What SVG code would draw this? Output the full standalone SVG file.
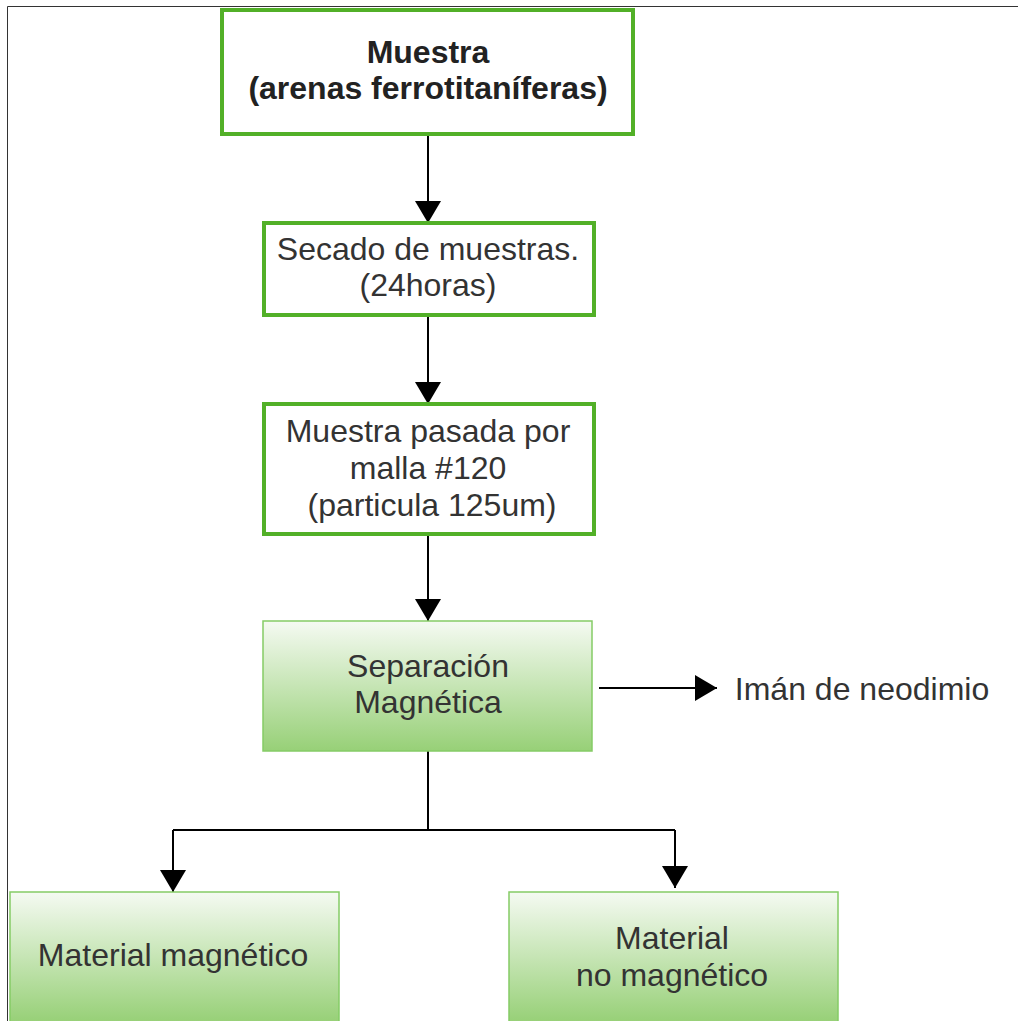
<svg xmlns="http://www.w3.org/2000/svg" width="1018" height="1021" viewBox="0 0 1018 1021">
<style>
text{font-family:"Liberation Sans",Arial,sans-serif;font-size:32px;fill:#333;text-anchor:middle}
.b{font-weight:bold;fill:#222}
.thick{fill:#fff;stroke:#52b028;stroke-width:4}
.grad{fill:url(#g);stroke:#85cc66;stroke-width:1.5}
.c{fill:none;stroke:#000;stroke-width:2}
</style>
<defs>
<linearGradient id="g" x1="0" y1="0" x2="0" y2="1">
<stop offset="0" stop-color="#f5faf2"/>
<stop offset="1" stop-color="#97d077"/>
</linearGradient>
<linearGradient id="g2" x1="0" x2="0" gradientUnits="userSpaceOnUse" y1="892" y2="1022">
<stop offset="0" stop-color="#f5faf2"/>
<stop offset="1" stop-color="#97d077"/>
</linearGradient>
<marker id="ah" viewBox="0 0 22 26" refX="22" refY="13" markerWidth="22" markerHeight="26" markerUnits="userSpaceOnUse" orient="auto">
<path d="M0,0L22,13L0,26z" fill="#000"/>
</marker>
</defs>
<rect width="1018" height="1021" fill="#fff"/>
<path d="M7.5,1021V6.5H1018" fill="none" stroke="#333" stroke-width="1"/>
<g id="connectors">
<path class="c" d="M428,134V223" marker-end="url(#ah)"/>
<path class="c" d="M428,315V404" marker-end="url(#ah)"/>
<path class="c" d="M428,534V621" marker-end="url(#ah)"/>
<path class="c" d="M599,688H717" marker-end="url(#ah)"/>
<path class="c" d="M428,751V830"/>
<path class="c" d="M173,830H675"/>
<path class="c" d="M173,830V892" marker-end="url(#ah)"/>
<path class="c" d="M675,830V888" marker-end="url(#ah)"/>
</g>
<g id="n1">
<rect class="thick" x="222" y="10" width="411" height="124"/>
<text class="b" x="428" y="63">Muestra</text>
<text class="b" x="428" y="99">(arenas ferrotitaníferas)</text>
</g>
<g id="n2">
<rect class="thick" x="264" y="223" width="330" height="92"/>
<text x="428" y="260">Secado de muestras.</text>
<text x="428" y="296">(24horas)</text>
</g>
<g id="n3">
<rect class="thick" x="264" y="404" width="330" height="130"/>
<text x="428" y="442">Muestra pasada por</text>
<text x="428" y="479">malla #120</text>
<text x="432" y="516">(particula 125um)</text>
</g>
<g id="n4">
<rect class="grad" x="263" y="621" width="329" height="130"/>
<text x="428" y="677">Separación</text>
<text x="428" y="713">Magnética</text>
</g>
<g id="n5">
<text x="862" y="700">Imán de neodimio</text>
</g>
<g id="n6">
<rect x="10" y="892" width="329" height="135" fill="url(#g2)" stroke="#85cc66" stroke-width="1.5"/>
<text x="173" y="966">Material magnético</text>
</g>
<g id="n7">
<rect x="509" y="892" width="329" height="135" fill="url(#g2)" stroke="#85cc66" stroke-width="1.5"/>
<text x="672" y="949">Material</text>
<text x="672" y="986">no magnético</text>
</g>
</svg>
